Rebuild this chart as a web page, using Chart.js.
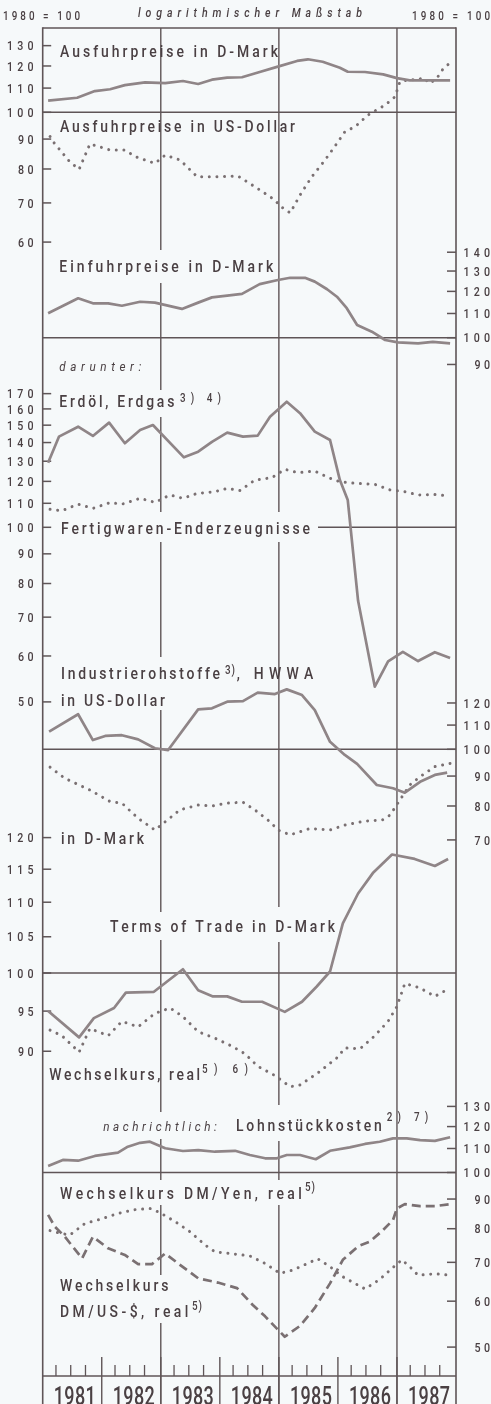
<!DOCTYPE html>
<html><head><meta charset="utf-8">
<script src="https://cdn.jsdelivr.net/npm/chart.js@4.4.1/dist/chart.umd.min.js"></script>
<style>html,body{margin:0;padding:0;background:#f6f9fa;}canvas{display:block}</style>
</head><body>
<canvas id="c" width="491" height="1404" style="width:491px;height:1404px"></canvas>
<script>
// ---- x positions: months since January 1981 (0 = start of 1981, 84 = end of 1987)
const years = ['1981','1982','1983','1984','1985','1986','1987'];

// ---- tick labels of the panels
const ticksP1 = [130,120,110,100,90,80,70,60];          // left
const ticksP2 = [140,130,120,110,100,90];               // right
const ticksP3 = [170,160,150,140,130,120,110,100,90,80,70,60,50]; // left
const ticksP4 = [120,110,100,90,80,70];                 // right
const ticksP5 = [120,115,110,105,100,95,90];            // left
const ticksP6 = [130,120,110,100,90,80,70,60,50];       // right

// ---- Ausfuhrpreise in D-Mark
const ausfuhrDM_m = [1.1,7.0,10.6,13.7,16.7,20.8,24.9,28.5,31.6,34.4,37.5,40.5,44.1,47.8,51.7,53.9,56.9,60.4,62.0,65.5,69.2,72.0,74.6,77.7,82.8];
const ausfuhrDM   = [104.7,105.9,108.7,109.5,111.3,112.5,112.2,113.1,111.8,113.7,114.6,114.8,117.2,119.7,122.4,123.2,122.0,119.2,117.3,117.2,116.1,114.4,113.4,113.4,113.4];
// ---- Ausfuhrpreise in US-Dollar
const ausfuhrUSD_m = [1.5,2.1,5.5,7.4,9.6,13.7,16.7,18.8,22.8,24.9,27.9,31.4,35.4,39.7,41.5,44.1,47.2,48.2,50.3,52.3,54.7,57.4,59.8,61.4,63.5,66.1,68.1,69.6,71.6,72.6,74.6,76.3,77.3,78.7,80.1,81.3,82.8];
const ausfuhrUSD   = [90.9,89.1,82.3,79.9,88.3,86.2,86.2,84.0,81.8,84.5,82.9,77.6,77.6,77.8,76.1,73.7,70.8,69.2,67.3,72.2,77.6,82.9,88.5,92.6,94.5,98.9,101.2,102.9,106.3,112.8,113.8,113.6,114.6,112.1,114.3,118.4,121.5];
// ---- Einfuhrpreise in D-Mark
const einfuhrDM_m = [1.1,7.2,10.2,13.3,16.1,19.8,22.8,28.3,31.6,34.4,37.5,40.5,44.1,47.8,50.3,53.3,55.3,57.8,59.8,61.8,63.9,66.9,69.6,72.2,76.3,79.3,82.8];
const einfuhrDM   = [110.1,116.8,114.5,114.5,113.4,115.2,114.8,112.0,114.8,117.2,118.0,118.8,123.5,125.5,126.6,126.6,124.7,121.0,117.5,112.3,105.1,102.4,99.1,98.2,97.8,98.4,97.8];
// ---- Erdöl, Erdgas
const erdoel_m = [1.1,3.3,7.2,10.2,13.5,16.7,19.8,22.4,28.7,31.6,34.4,37.5,40.7,43.7,46.2,49.6,52.3,55.3,58.4,60.4,62.0,64.1,67.5,70.2,73.2,76.3,79.7,82.8];
const erdoel   = [129.2,143.3,149.1,143.7,151.5,139.6,147.2,150.1,132.0,135.0,140.4,145.6,143.3,143.9,155.1,164.6,157.3,146.2,141.4,120.6,111.4,74.7,53.1,58.7,61.0,58.8,60.9,59.5];
// ---- Fertigwaren-Enderzeugnisse
const fertig_m = [1.5,3.9,7.2,10.2,13.7,16.1,19.8,22.8,25.9,28.5,31.4,35.0,37.5,40.1,43.1,46.6,49.2,51.9,55.3,58.4,60.4,63.5,67.5,70.6,73.6,76.3,79.7,82.8];
const fertig   = [107.4,106.8,109.6,107.8,110.3,109.6,112.2,110.4,113.7,112.2,114.4,115.2,116.7,115.7,120.6,121.8,125.9,124.2,125.0,121.5,119.8,119.1,118.6,116.0,115.2,113.7,113.9,113.2];
// ---- Industrierohstoffe, HWWA, in US-Dollar
const rohUSD_m = [1.3,7.2,10.2,12.7,16.1,19.4,22.8,25.5,31.6,34.4,37.5,40.7,43.7,47.2,49.6,52.7,55.3,58.4,61.4,63.9,67.9,71.2,73.6,76.7,79.7,82.2];
const rohUSD   = [107.2,114.8,103.7,105.4,105.7,104.0,100.4,99.7,117.0,117.5,120.6,120.9,125.0,124.3,126.6,123.8,116.7,103.0,97.8,94.4,86.9,85.8,84.3,88.0,90.4,91.2];
// ---- Industrierohstoffe, HWWA, in D-Mark
const rohDM_m = [1.5,4.5,9.6,13.7,16.1,19.4,22.8,24.9,27.9,31.6,34.4,37.5,40.7,43.1,46.2,47.8,50.3,54.3,58.4,61.4,65.5,69.0,70.6,72.6,74.6,76.7,79.7,82.8];
const rohDM   = [93.2,89.2,85.2,81.4,80.9,76.2,72.8,75.2,78.8,80.3,80.0,80.9,81.2,78.8,75.2,72.8,71.4,73.2,72.8,74.2,75.4,75.7,77.2,81.9,86.9,89.8,93.4,94.6];
// ---- Terms of Trade in D-Mark
const tot_m = [1.1,7.4,10.4,14.5,16.9,22.6,28.5,31.6,34.6,37.5,40.5,44.6,49.2,52.7,55.7,58.4,61.0,64.1,67.1,71.0,75.6,79.7,82.4];
const tot   = [95.0,91.7,94.1,95.4,97.4,97.5,100.5,97.7,96.9,96.9,96.2,96.2,94.9,96.2,98.2,100.2,106.9,111.3,114.4,117.3,116.6,115.5,116.6];
// ---- Wechselkurs, real
const wkReal_m = [1.5,3.9,7.4,9.6,13.3,16.1,19.4,22.8,25.9,28.5,31.6,35.0,38.5,41.1,43.7,47.2,50.3,52.3,55.9,60.0,61.4,64.5,67.5,70.2,72.0,73.6,76.7,79.7,82.8];
const wkReal   = [92.6,91.9,89.9,92.8,91.9,93.7,93.0,94.7,95.4,94.3,92.4,91.6,90.6,89.7,88.2,87.1,85.8,86.0,87.4,89.3,90.4,90.3,91.9,93.7,95.6,98.6,98.0,96.9,98.0];
// ---- Lohnstückkosten
const lohn_m = [1.1,4.1,7.2,10.6,15.3,17.3,19.8,21.8,24.9,28.5,31.6,35.0,39.1,42.1,45.2,47.6,49.6,52.3,55.5,58.4,62.4,65.5,68.5,71.2,74.0,76.7,79.7,82.8];
const lohn   = [102.6,105.1,104.8,106.8,108.2,110.8,112.5,113.0,110.1,108.9,109.3,108.6,109.0,107.2,105.8,105.8,107.2,107.2,105.4,109.0,110.5,112.0,113.0,114.5,114.5,113.7,113.4,115.0];
// ---- Wechselkurs DM/Yen, real
const yen_m = [1.5,3.5,5.5,8.6,11.6,15.3,18.8,21.8,23.8,26.9,29.9,33.0,35.0,38.1,42.1,45.2,48.2,50.9,55.9,58.4,61.0,65.5,68.5,71.2,73.0,74.6,76.3,79.7,82.8];
const yen   = [79.4,78.6,78.0,81.7,83.0,85.0,86.3,86.7,85.3,82.3,79.1,75.0,73.0,72.5,71.8,69.7,67.0,67.9,71.0,68.8,66.1,63.0,65.4,68.6,70.7,68.8,66.5,66.9,66.5];
// ---- Wechselkurs DM/US-$, real
const usd_m = [1.1,2.5,4.5,8.0,10.2,13.3,16.7,19.4,22.2,24.9,27.9,31.6,35.6,39.5,42.7,45.2,47.6,49.2,52.3,55.3,58.4,61.0,64.1,66.5,69.2,71.2,72.0,73.6,76.7,79.7,82.8];
const usd   = [84.5,80.6,77.5,71.1,77.5,74.0,72.1,69.5,69.5,72.5,69.3,65.7,64.6,63.2,59.1,56.5,53.8,52.1,54.4,58.4,64.4,70.7,74.6,76.0,79.6,82.8,86.7,88.2,87.5,87.5,88.2];

// ================= drawing =================
const BG = '#f6f9fa', LINE = '#8f8587', DOTC = '#7a7072', FRAME = '#5f5557', TEXT = '#4a4043';
const TOP = 28, BOTTOM = 1376;
function logBounds(y100, K) {
  return { min: 100 * Math.pow(10, (y100 - BOTTOM) / K), max: 100 * Math.pow(10, (y100 - TOP) / K) };
}
function yAxis(y100, K) {
  const b = logBounds(y100, K);
  return { type: 'logarithmic', display: false, bounds: 'data', min: b.min, max: b.max };
}
function ds(m, v, axis, style) {
  return {
    data: m.map((x, i) => ({ x, y: v[i] })), yAxisID: axis, xAxisID: 'x',
    borderColor: style === 'solid' ? LINE : DOTC,
    borderWidth: style === 'dot' ? 3 : 2.7,
    borderDash: style === 'dot' ? [0.01, 7.6] : style === 'dash' ? [9, 5] : [],
    borderCapStyle: style === 'dot' ? 'round' : 'butt',
    borderJoinStyle: 'round', pointRadius: 0, fill: false, tension: 0
  };
}

function drawText(ctx, str, x, baseline, o) {
  const size = o.size, sx = o.sx || 0.82;
  ctx.font = (o.italic ? 'italic ' : '') + (o.weight || 500) + ' ' + size + 'px Roboto, "DejaVu Sans", sans-serif';
  ctx.fillStyle = TEXT;
  ctx.textBaseline = 'alphabetic';
  ctx.textAlign = 'left';
  const chars = Array.from(str);
  const ws = chars.map(c => ctx.measureText(c).width * sx);
  const nat = ws.reduce((a, b) => a + b, 0);
  let sp = (o.width != null && chars.length > 1) ? (o.width - nat) / (chars.length - 1) : (o.spacing || 0);
  const total = nat + sp * (chars.length - 1);
  let cx = o.align === 'right' ? x - total : (o.align === 'center' ? x - total / 2 : x);
  chars.forEach((c, i) => {
    ctx.save(); ctx.translate(cx, baseline); ctx.scale(sx, 1); ctx.fillText(c, 0, 0); ctx.restore();
    cx += ws[i] + sp;
  });
}

const gridPlugin = {
  id: 'grid',
  beforeDraw(chart) {
    const c = chart.ctx; c.save(); c.fillStyle = BG; c.fillRect(0, 0, chart.width, chart.height); c.restore();
  },
  beforeDatasetsDraw(chart) {
    const c = chart.ctx, s = chart.scales, a = chart.chartArea;
    const X = v => s.x.getPixelForValue(v);
    const L = X(0), R = X(84);
    c.save();
    c.strokeStyle = FRAME; c.lineCap = 'butt';
    const seg = (x1, y1, x2, y2, w) => { c.lineWidth = w; c.beginPath(); c.moveTo(x1, y1); c.lineTo(x2, y2); c.stroke(); };
    // frame
    seg(L, a.top, R, a.top, 1.6);
    seg(L, a.top - 0.8, L, chart.height, 1.6);
    seg(R, a.top - 0.8, R, chart.height, 1.6);
    seg(L, a.bottom, R, a.bottom, 1.6);
    // vertical grid lines (1983, 1985, 1987) with gaps around labels
    const gaps = {
      24: [[250,283],[390,417],[512,542],[657,710],[912,940],[1112,1139],[1180,1205],[1275,1323]],
      48: [[512,542],[907,942],[1105,1141],[1180,1205]],
      72: []
    };
    Object.keys(gaps).forEach(k => {
      const x = X(+k); let y0 = a.top;
      gaps[k].forEach(g => { seg(x, y0, x, g[0], 1.4); y0 = g[1]; });
      seg(x, y0, x, chart.height, 1.4);
    });
    // year separators and quarter ticks
    for (let yr = 1; yr < 7; yr++) {
      const x = X(yr * 12);
      seg(x, a.bottom - 19, x, chart.height, 1.4);
    }
    for (let yr = 0; yr < 7; yr++) {
      for (let q = 1; q < 4; q++) {
        const x = X(yr * 12 + q * 3) - 1.5;
        seg(x, a.bottom - 11, x, a.bottom, 1.3);
      }
    }
    // 100 lines
    const h100 = (axis, x0) => { const y = s[axis].getPixelForValue(100); seg(x0 == null ? L : x0, y, R, y, 1.5); };
    h100('p1'); h100('p2'); h100('p3', 318); h100('p4'); h100('p5'); h100('p6');
    // axis ticks
    const leftTicks = (axis, arr) => arr.forEach(v => { const y = s[axis].getPixelForValue(v); seg(L, y, L + 8.5, y, 1.5); });
    const rightTicks = (axis, arr) => arr.forEach(v => { const y = s[axis].getPixelForValue(v); seg(R - 9, y, R, y, 1.5); });
    leftTicks('p1', ticksP1); rightTicks('p2', ticksP2); leftTicks('p3', ticksP3);
    rightTicks('p4', ticksP4); leftTicks('p5', ticksP5); rightTicks('p6', ticksP6);
    c.restore();
  },
  afterDatasetsDraw(chart) {
    const c = chart.ctx, s = chart.scales;
    const X = v => s.x.getPixelForValue(v);
    c.save();
    const tw = v => String(v).length === 3 ? 26.5 : 15.5;
    const leftLabels = (axis, arr) => arr.forEach(v => drawText(c, String(v), 33.5, s[axis].getPixelForValue(v) + 4.6, { size: 13, width: tw(v), align: 'right' }));
    const rightLabels = (axis, arr) => arr.forEach(v => drawText(c, String(v), 490, s[axis].getPixelForValue(v) + 4.6, { size: 13, width: tw(v), align: 'right' }));
    leftLabels('p1', ticksP1); rightLabels('p2', ticksP2); leftLabels('p3', ticksP3);
    rightLabels('p4', ticksP4); leftLabels('p5', ticksP5); rightLabels('p6', ticksP6);

    // headings
    drawText(c, '1980 = 100', 3, 20, { size: 12, width: 77 });
    drawText(c, 'logarithmischer Maßstab', 138, 17, { size: 12, width: 224, italic: true, sx: 0.88 });
    drawText(c, '1980 = 100', 412, 20, { size: 12, width: 78 });
    // series labels
    const B = 17;
    drawText(c, 'Ausfuhrpreise in D-Mark', 60, 57, { size: B, width: 218 });
    drawText(c, 'Ausfuhrpreise in US-Dollar', 60, 132.3, { size: B, width: 235 });
    drawText(c, 'Einfuhrpreise in D-Mark', 59.3, 272, { size: B, width: 214 });
    drawText(c, 'darunter:', 59.3, 371, { size: 13, width: 82, italic: true, sx: 0.9, weight: 400 });
    drawText(c, 'Erdöl, Erdgas', 59.3, 406.7, { size: B, width: 115 });
    drawText(c, '3) 4)', 180, 401.5, { size: 12, width: 41 });
    drawText(c, 'Fertigwaren-Enderzeugnisse', 61, 534.3, { size: B, width: 249 });
    drawText(c, 'Industrierohstoffe', 61, 679.3, { size: B, width: 159 });
    drawText(c, '3)', 225, 674, { size: 12, width: 10 });
    drawText(c, ', HWWA', 236.7, 679.3, { size: B, width: 76.6 });
    drawText(c, 'in US-Dollar', 61, 706, { size: B, width: 104 });
    drawText(c, 'in D-Mark', 61, 844.3, { size: B, width: 83 });
    drawText(c, 'Terms of Trade in D-Mark', 110, 931.7, { size: B, width: 225 });
    drawText(c, 'Wechselkurs, real', 49.3, 1080, { size: B, width: 150.7 });
    drawText(c, '5) 6)', 202, 1073, { size: 12, width: 46 });
    drawText(c, 'nachrichtlich:', 103.3, 1130.7, { size: 13, width: 113.4, italic: true, sx: 0.9, weight: 400 });
    drawText(c, 'Lohnstückkosten', 236, 1130.7, { size: B, width: 145.7 });
    drawText(c, '2) 7)', 386.7, 1121, { size: 12, width: 41.6 });
    drawText(c, 'Wechselkurs DM/Yen, real', 60, 1199, { size: B, width: 241.7 });
    drawText(c, '5)', 305, 1191, { size: 12, width: 10 });
    drawText(c, 'Wechselkurs', 60, 1290.7, { size: B, width: 108.3 });
    drawText(c, 'DM/US-$, real', 60, 1317.3, { size: B, width: 128.3 });
    drawText(c, '5)', 192, 1310, { size: 12, width: 10 });
    // years
    years.forEach((y, i) => drawText(c, y, (X(i * 12) + X(i * 12 + 12)) / 2 + 2.5, 1404.5, { size: 25, width: 42, align: 'center', sx: 0.72 }));
    c.restore();
  }
};

new Chart(document.getElementById('c'), {
  type: 'line',
  data: {
    datasets: [
      ds(ausfuhrDM_m, ausfuhrDM, 'p1', 'solid'),
      ds(ausfuhrUSD_m, ausfuhrUSD, 'p1', 'dot'),
      ds(einfuhrDM_m, einfuhrDM, 'p2', 'solid'),
      ds(erdoel_m, erdoel, 'p3', 'solid'),
      ds(fertig_m, fertig, 'p3', 'dot'),
      ds(rohUSD_m, rohUSD, 'p4', 'solid'),
      ds(rohDM_m, rohDM, 'p4', 'dot'),
      ds(tot_m, tot, 'p5', 'solid'),
      ds(wkReal_m, wkReal, 'p5', 'dot'),
      ds(lohn_m, lohn, 'p6', 'solid'),
      ds(yen_m, yen, 'p6', 'dot'),
      ds(usd_m, usd, 'p6', 'dash')
    ]
  },
  options: {
    responsive: false, animation: false, devicePixelRatio: 1,
    layout: { padding: { left: 42.7, right: 35, top: TOP, bottom: 1404 - BOTTOM } },
    plugins: { legend: { display: false }, tooltip: { enabled: false } },
    scales: {
      x: { type: 'linear', display: false, min: 0, max: 84 },
      p1: yAxis(112.3, 585),
      p2: yAxis(337.7, 585),
      p3: yAxis(527.3, 580),
      p4: yAxis(749.3, 585),
      p5: yAxis(973, 1710),
      p6: yAxis(1172.5, 580)
    }
  },
  plugins: [gridPlugin]
});
</script>
</body></html>
